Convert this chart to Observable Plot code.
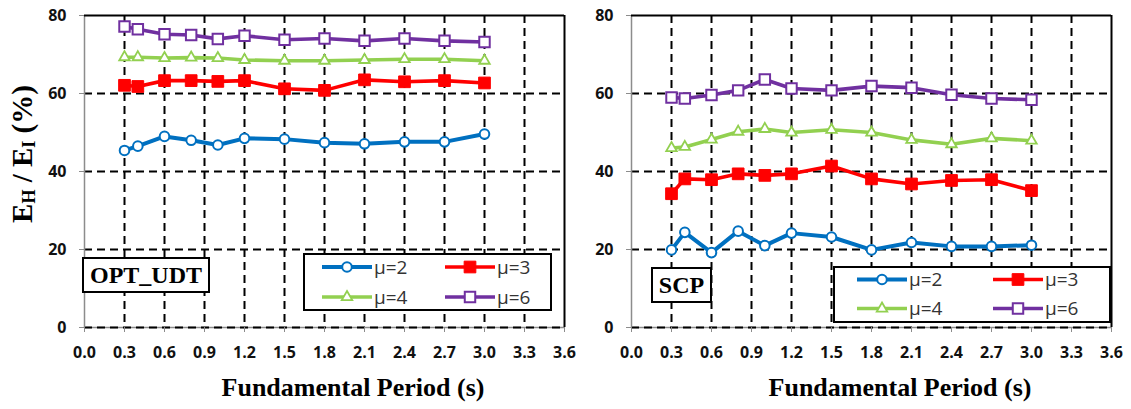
<!DOCTYPE html>
<html>
<head>
<meta charset="utf-8">
<script src="https://cdn.jsdelivr.net/npm/d3@7"></script>
<script src="https://cdn.jsdelivr.net/npm/@observablehq/plot@0.6"></script>
<style>
  html, body { margin: 0; padding: 0; background: #fff; }
  #wrap { position: relative; width: 1131px; height: 409px; overflow: hidden; background: #fff; }
  .pnl { position: absolute; top: 0; }
  .pnl g[aria-label$="tick label"] { font-size: 16px; font-weight: bold; font-family: "Open Sans", sans-serif; }
  .ylab { position: absolute; font-family: "Liberation Serif", "Times New Roman", serif; font-weight: bold;
          font-size: 29px; white-space: nowrap; text-align: center; width: 240px; line-height: 30px;
          transform: rotate(-90deg); color: #000; }
  .ylab sub { font-size: 62%; vertical-align: -0.18em; line-height: 0; }
  .tag { position: absolute; box-sizing: border-box; border: 2px solid #000; background: #fff;
         font-family: "Liberation Serif", "Times New Roman", serif; font-weight: bold; font-size: 24px;
         display: flex; align-items: center; justify-content: center; color: #000; }
  .leg { position: absolute; box-sizing: border-box; border: 2px solid #000; background: #fff; }
  .leg svg { position: absolute; left: -2px; top: -2px; overflow: visible; }
</style>
</head>
<body>
<div id="wrap"></div>
<script>
// ---------- data ----------
const periods = [0.3, 0.4, 0.6, 0.8, 1.0, 1.2, 1.5, 1.8, 2.1, 2.4, 2.7, 3.0];
const seriesNames = ["μ=2", "μ=3", "μ=4", "μ=6"];
const optMu2 = [45.4, 46.5, 49.0, 48.0, 46.8, 48.5, 48.3, 47.4, 47.1, 47.6, 47.6, 49.6];
const optMu3 = [62.1, 61.8, 63.3, 63.3, 63.1, 63.3, 61.2, 60.8, 63.5, 63.0, 63.3, 62.7];
const optMu4 = [69.3, 69.3, 69.1, 69.2, 69.1, 68.6, 68.4, 68.4, 68.6, 68.8, 68.8, 68.4];
const optMu6 = [77.2, 76.5, 75.2, 75.0, 74.0, 74.8, 73.8, 74.1, 73.5, 74.1, 73.5, 73.2];
const scpMu2 = [19.9, 24.4, 19.2, 24.7, 21.0, 24.2, 23.2, 19.9, 21.8, 20.8, 20.8, 21.1];
const scpMu3 = [34.3, 38.1, 37.9, 39.4, 39.0, 39.4, 41.4, 38.1, 36.8, 37.7, 37.9, 35.1];
const scpMu4 = [46.0, 46.3, 48.2, 50.2, 50.9, 50.0, 50.7, 50.0, 48.1, 47.0, 48.5, 47.9];
const scpMu6 = [59.0, 58.7, 59.6, 60.8, 63.6, 61.3, 60.8, 61.9, 61.5, 59.7, 58.7, 58.4];
const xTicks = [0, 0.3, 0.6, 0.9, 1.2, 1.5, 1.8, 2.1, 2.4, 2.7, 3.0, 3.3, 3.6];
const xGrid = [0.3, 0.6, 0.9, 1.2, 1.5, 1.8, 2.1, 2.4, 2.7, 3.0, 3.3];
const yTicks = [0, 20, 40, 60, 80];
const yGrid = [20, 40, 60];
const xTitle = "Fundamental Period (s)";
const panelTags = ["OPT_UDT", "SCP"];

// ---------- styles ----------
const colors = ["#0070C0", "#FF0000", "#92D050", "#7030A0"];
const symbols = ["circle", "square", "triangle", "square"];
const fills = ["#fff", "#FF0000", "#fff", "#fff"];
const radii = [4.8, 6.6, 3.9, 5.9];
const symStroke = [2, 1, 1.8, 2];
const lineWidths = [4, 3.6, 3.6, 3.6];

function makeData(vals) {
  return seriesNames.flatMap((s, i) => periods.map((t, j) => ({s, t, v: vals[i][j]})));
}

function panel(vals) {
  const data = makeData(vals);
  const dash = {stroke: "#000", strokeWidth: 2, strokeDasharray: "8,5"};
  return Plot.plot({
    width: 584, height: 409,
    marginLeft: 84, marginRight: 20, marginTop: 15, marginBottom: 82,
    style: {background: "transparent", overflow: "visible", fontFamily: "'Open Sans', sans-serif"},
    x: {domain: [0, 3.6], axis: null},
    y: {domain: [0, 80], axis: null},
    marks: [
      Plot.ruleX(xGrid, dash),
      Plot.ruleY(yGrid, dash),
      Plot.ruleY([0], {stroke: "#8c8c8c", strokeWidth: 1.5}),
      Plot.ruleY([0], dash),
      Plot.ruleX([0], {stroke: "#8c8c8c", strokeWidth: 1.5}),
      Plot.ruleY([80], {stroke: "#000", strokeWidth: 2}),
      Plot.ruleX([3.6], {stroke: "#000", strokeWidth: 2}),
      Plot.axisX({ticks: xTicks, tickFormat: d => d.toFixed(1), tickSize: 5, tickPadding: 14,
        stroke: "#8c8c8c", fill: "#111", fontSize: 16, fontWeight: "bold", label: null}),
      Plot.axisY({ticks: yTicks, tickSize: 5, tickPadding: 13,
        stroke: "#8c8c8c", fill: "#111", fontSize: 16, fontWeight: "bold", label: null}),
      ...seriesNames.map((s, i) => Plot.line(data.filter(d => d.s === s),
        {x: "t", y: "v", stroke: colors[i], strokeWidth: lineWidths[i], curve: "linear"})),
      ...seriesNames.map((s, i) => Plot.dot(data.filter(d => d.s === s),
        {x: "t", y: "v", symbol: symbols[i], r: radii[i], stroke: colors[i], fill: fills[i], strokeWidth: symStroke[i]})),
      Plot.text([xTitle], {text: d => d, frameAnchor: "bottom", dx: 28.5, dy: 68.5,
        fontFamily: "'Liberation Serif', 'Times New Roman', serif", fontSize: 26, fontWeight: "bold", fill: "#000"})
    ]
  });
}

const wrap = document.getElementById("wrap");
const p1 = panel([optMu2, optMu3, optMu4, optMu6]);
p1.classList.add("pnl"); p1.style.left = "0px";
wrap.appendChild(p1);
const p2 = panel([scpMu2, scpMu3, scpMu4, scpMu6]);
p2.classList.add("pnl"); p2.style.left = "547px";
wrap.appendChild(p2);

// y label
const yl = document.createElement("div");
yl.className = "ylab";
yl.innerHTML = "E<sub>H</sub> / E<sub>I</sub> (%)";
yl.style.left = (22 - 120) + "px";
yl.style.top = (154 - 15) + "px";
wrap.appendChild(yl);

// panel tags
const tagBoxes = [{l: 82, t: 257, w: 128, h: 36}, {l: 651, t: 267, w: 61, h: 36}];
panelTags.forEach((txt, i) => {
  const d = document.createElement("div");
  d.className = "tag";
  Object.assign(d.style, {left: tagBoxes[i].l + "px", top: tagBoxes[i].t + "px",
    width: tagBoxes[i].w + "px", height: tagBoxes[i].h + "px"});
  d.textContent = txt;
  wrap.appendChild(d);
});

// legends
const legBoxes = [
  {l: 303, t: 253, w: 249, h: 58, rows: [14, 44], cols: [19, 142]},
  {l: 833, t: 266, w: 278, h: 57, rows: [13.5, 42.5], cols: [24, 160]}
];
const symMap = {circle: d3.symbolCircle, square: d3.symbolSquare, triangle: d3.symbolTriangle};
legBoxes.forEach(b => {
  const d = document.createElement("div");
  d.className = "leg";
  Object.assign(d.style, {left: b.l + "px", top: b.t + "px", width: b.w + "px", height: b.h + "px"});
  wrap.appendChild(d);
  const svg = d3.select(d).append("svg").attr("width", b.w).attr("height", b.h);
  seriesNames.forEach((s, i) => {
    const cx = b.cols[i % 2], cy = b.rows[Math.floor(i / 2)];
    const g = svg.append("g");
    g.append("line").attr("x1", cx).attr("x2", cx + 50).attr("y1", cy).attr("y2", cy)
      .attr("stroke", colors[i]).attr("stroke-width", lineWidths[i]);
    g.append("path").attr("transform", `translate(${cx + 25},${cy})`)
      .attr("d", d3.symbol(symMap[symbols[i]], Math.PI * radii[i] * radii[i])())
      .attr("fill", fills[i]).attr("stroke", colors[i]).attr("stroke-width", symStroke[i]);
    g.append("text").attr("x", cx + 52).attr("y", cy).attr("dy", "0.36em")
      .attr("font-family", "'Open Sans', sans-serif").attr("font-size", 19).attr("fill", "#333")
      .text(s);
  });
});
</script>
</body>
</html>
